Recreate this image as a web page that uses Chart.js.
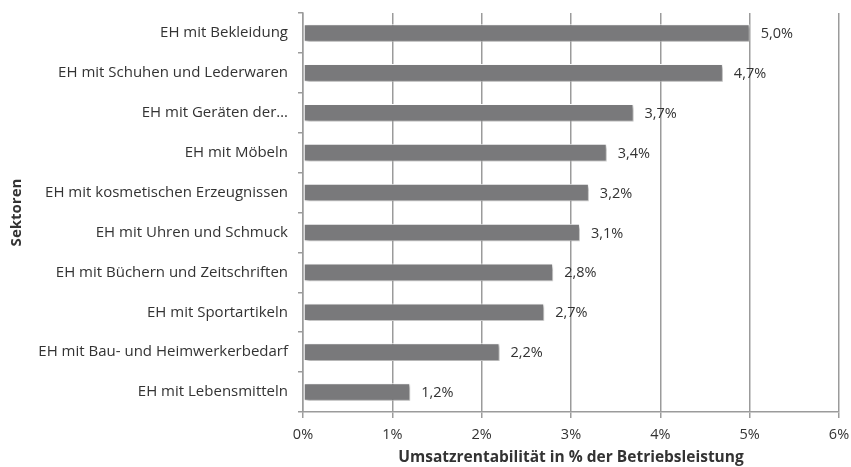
<!DOCTYPE html>
<html>
<head>
<meta charset="utf-8">
<script src="https://cdn.jsdelivr.net/npm/chart.js@4"></script>
<style>
  html, body { margin: 0; padding: 0; background: #fff; }
  #wrap { width: 851px; height: 467px; }
</style>
</head>
<body>
<div id="wrap"><canvas id="chart" width="851" height="467"></canvas></div>
<script>
// Sektoren und Umsatzrentabilität (%)
const sectors = [
  'EH mit Bekleidung',
  'EH mit Schuhen und Lederwaren',
  'EH mit Geräten der…',
  'EH mit Möbeln',
  'EH mit kosmetischen Erzeugnissen',
  'EH mit Uhren und Schmuck',
  'EH mit Büchern und Zeitschriften',
  'EH mit Sportartikeln',
  'EH mit Bau- und Heimwerkerbedarf',
  'EH mit Lebensmitteln'
];
const returns = [5.0, 4.7, 3.7, 3.4, 3.2, 3.1, 2.8, 2.7, 2.2, 1.2];
const xTicks = [0, 1, 2, 3, 4, 5, 6];

const FONT = '"Open Sans", Lato, sans-serif';
const TEXT = '#333333';

// shadow under the bars, like the original office chart
const barShadow = {
  id: 'barShadow',
  beforeDatasetDraw(chart) {
    const ctx = chart.ctx;
    ctx.save();
    ctx.shadowColor = 'rgba(0,0,0,0.35)';
    ctx.shadowBlur = 3;
    ctx.shadowOffsetX = 2;
    ctx.shadowOffsetY = 2;
  },
  afterDatasetDraw(chart) {
    chart.ctx.restore();
  }
};

// value labels right of each bar
const valueLabels = {
  id: 'valueLabels',
  afterDatasetsDraw(chart) {
    const ctx = chart.ctx;
    const meta = chart.getDatasetMeta(0);
    ctx.save();
    ctx.font = '14.5px ' + FONT;
    ctx.fillStyle = TEXT;
    ctx.textBaseline = 'middle';
    ctx.textAlign = 'left';
    meta.data.forEach((bar, i) => {
      const txt = returns[i].toFixed(1).replace('.', ',') + '%';
      ctx.fillText(txt, bar.x + 11, bar.y + 1);
    });
    ctx.restore();
  }
};

new Chart(document.getElementById('chart'), {
  type: 'bar',
  data: {
    labels: sectors,
    datasets: [{
      data: returns,
      backgroundColor: '#79797b',
      borderColor: '#ffffff',
      borderWidth: 1,
      borderSkipped: false,
      categoryPercentage: 1,
      barPercentage: 0.44
    }]
  },
  options: {
    indexAxis: 'y',
    responsive: false,
    animation: false,
    layout: { padding: { left: 8, right: 0, top: 13, bottom: 0 } },
    plugins: {
      legend: { display: false },
      tooltip: { enabled: false }
    },
    scales: {
      x: {
        min: 0,
        max: 6,
        afterBuildTicks: s => { s.ticks = xTicks.map(v => ({ value: v })); },
        ticks: {
          callback: v => v + '%',
          color: TEXT,
          font: { family: FONT, size: 14.5 },
          padding: 8
        },
        grid: { color: '#9b9b9b', lineWidth: 1.5, tickLength: 6 },
        border: { color: '#9b9b9b', width: 1.5 },
        title: {
          display: true,
          text: 'Umsatzrentabilität in % der Betriebsleistung',
          color: TEXT,
          font: { family: FONT, size: 15.5, weight: 'bold' },
          padding: { top: 0, bottom: 0 }
        },
        afterFit: s => { s.height = 467 - 412; s.paddingRight = 12; }
      },
      y: {
        ticks: {
          color: TEXT,
          font: { family: FONT, size: 15 },
          padding: 10
        },
        grid: { drawOnChartArea: false, color: '#9b9b9b', lineWidth: 1.5, tickLength: 5 },
        border: { color: '#9b9b9b', width: 1.5 },
        title: {
          display: true,
          text: 'Sektoren',
          color: TEXT,
          font: { family: FONT, size: 15, weight: 'bold' },
          padding: 0
        },
        afterFit: s => { s.width = 303 - 8; s.paddingTop = 0; s.paddingBottom = 0; }
      }
    }
  },
  plugins: [barShadow, valueLabels]
});
</script>
</body>
</html>
